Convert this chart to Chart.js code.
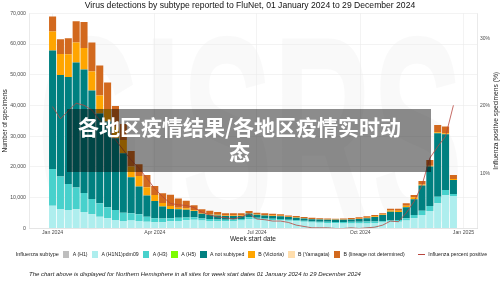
<!DOCTYPE html>
<html lang="en">
<head>
<meta charset="UTF-8">
<script src="https://cdn.jsdelivr.net/npm/chart.js"></script>
<style>
  body { margin: 0; background: #fff; }
  .wrap { position: relative; width: 500px; height: 281px; overflow: hidden; font-family: "Liberation Sans", Arial, sans-serif; }
  .mark { position: absolute; left: 37px; top: -5px; font-size: 274px; line-height: 1; font-weight: bold; color: rgba(0,0,0,0.025); transform: scaleX(0.5); transform-origin: left top; white-space: nowrap; }
  canvas { position: absolute; left: 0; top: 0; }
  .legend { position: absolute; left: 15.7px; top: 250.8px; height: 7px; display: flex; align-items: center; font-size: 5.2px; color: #222; white-space: nowrap; }
  .legend .head { font-size: 5.5px; margin-right: 4px; }
  .legend .item { display: flex; align-items: center; margin-right: 4px; }
  .legend .box { width: 6.6px; height: 6.6px; margin-right: 3.4px; }
  .legend .line { width: 6.7px; height: 0.8px; margin-left: 9.4px; margin-right: 3.5px; }
  .foot { position: absolute; left: 29px; top: 271.4px; font-size: 6px; font-style: italic; color: #222; white-space: nowrap; }
  .banner { position: absolute; left: 66.7px; top: 109px; width: 364.3px; height: 62.7px; background: rgba(0,0,0,0.45); }
  .banner div { position: absolute; left: 0; top: 5px; width: 345.6px; text-align: center; color: #fff; font-family: "Noto Sans CJK SC", sans-serif; font-weight: 700; font-size: 21px; line-height: 25px; }
</style>
</head>
<body>
<div class="wrap">
  <div class="mark">GISRS</div>
  <canvas id="flu" width="500" height="281"></canvas>
  <div class="legend" id="legend"><span class="head">Influenza subtype</span></div>
  <div class="foot">The chart above is displayed for Northern Hemisphere in all sites for week start dates 01 January 2024 to 29 December 2024</div>
  <div class="banner"><div>各地区疫情结果/各地区疫情实时动<br>态</div></div>
</div>

<script>
  // week start dates (2024)
  const weekStarts = ['01-01', '01-08', '01-15', '01-22', '01-29', '02-05', '02-12', '02-19', '02-26',
    '03-04', '03-11', '03-18', '03-25', '04-01', '04-08', '04-15', '04-22', '04-29', '05-06', '05-13',
    '05-20', '05-27', '06-03', '06-10', '06-17', '06-24', '07-01', '07-08', '07-15', '07-22', '07-29',
    '08-05', '08-12', '08-19', '08-26', '09-02', '09-09', '09-16', '09-23', '09-30', '10-07', '10-14',
    '10-21', '10-28', '11-04', '11-11', '11-18', '11-25', '12-02', '12-09', '12-16', '12-23'];

  const tickDays = [0, 91, 182, 274, 366];
  const tickLabels = ['Jan 2024', 'Apr 2024', 'Jul 2024', 'Oct 2024', 'Jan 2025'];
  const pctTicks = [10, 20, 30];

  const h1 = [];
  const h1n1 = [7380, 6300, 5970, 6190, 5320, 4560, 3800, 3260, 2710, 2390, 2500, 2390, 2170, 1950,
    2000, 2300, 2400, 2600, 2800, 2500, 2400, 2300, 2300, 2400, 2500, 3000, 2900, 2800, 2700, 2650,
    2450, 2300, 2100, 1900, 1800, 1700, 1650, 1600, 1600, 1600, 1600, 1700, 1900, 2100, 2170, 2500,
    3260, 4340, 5650, 8140, 10860, 10530];
  const h3 = [11950, 10530, 8470, 7060, 6190, 4990, 4340, 3580, 3260, 2710, 2390, 2170, 1630, 1310,
    1200, 1000, 1000, 900, 800, 700, 600, 600, 500, 500, 500, 600, 500, 400, 400, 400,
    350, 350, 350, 350, 350, 400, 400, 450, 500, 550, 600, 500, 400, 500, 540, 760,
    1080, 1410, 1620, 2160, 1630, 650];
  const h5 = [];
  const notSubtyped = [38540, 33120, 34850, 40710, 40170, 35290, 29210, 27900, 23330, 19330, 11720, 9010, 6840, 5640,
    3900, 3000, 2800, 2500, 2000, 1500, 1400, 1300, 1200, 1100, 1000, 1200, 1000, 1000, 900, 900,
    850, 800, 750, 700, 700, 700, 700, 750, 800, 900, 1050, 1500, 2000, 2800, 2610, 3580,
    5110, 8150, 12820, 20640, 18130, 4560];
  const victoria = [6190, 6840, 7390, 6520, 7060, 6190, 5860, 4130, 3800, 4340, 3480, 3480, 2720, 1960,
    1100, 1000, 500, 500, 300, 200, 200, 200, 150, 150, 150, 200, 150, 150, 150, 150,
    120, 120, 100, 100, 80, 80, 80, 80, 80, 100, 150, 200, 200, 400, 400, 540,
    650, 400, 300, 300, 320, 300];
  const yamagata = [];
  const bUndetermined = [4890, 4770, 5210, 6950, 8470, 9450, 9780, 8580, 6750, 5210, 5100, 3800, 4010, 2930,
    3200, 3600, 3000, 2500, 1600, 1300, 1150, 900, 750, 750, 750, 650, 550, 550, 550, 500,
    430, 430, 400, 350, 320, 320, 320, 320, 370, 450, 500, 400, 400, 600, 680, 760,
    760, 1120, 1870, 2420, 2180, 1330];
  const pctPositive = [19.9, 18.1, 19.3, 20.4, 20.1, 19.4, 17.9, 16.7, 15.0, 13.5, 12.0, 10.8, 9.3, 7.8,
    6.6, 5.6, 5.4, 5.3, 5.0, 4.3, 3.9, 3.6, 3.5, 3.3, 3.6, 4.1, 3.3, 3.2, 3.0, 3.0,
    2.8, 2.4, 2.2, 2.0, 2.0, 2.0, 1.9, 1.9, 2.0, 1.9, 2.0, 2.1, 2.4, 3.0, 2.9, 4.2,
    5.9, 8.3, 12.3, 14.0, 15.5, 20.1];

  const seriesLabels = ['A (H1)', 'A (H1N1)pdm09', 'A (H3)', 'A (H5)', 'A not subtyped',
    'B (Victoria)', 'B (Yamagata)', 'B (lineage not determined)'];
  const seriesValues = [h1, h1n1, h3, h5, notSubtyped, victoria, yamagata, bUndetermined];
  const seriesColors = ['#bebebe', '#aeeeee', '#48d1cc', '#7cfc00', '#008080', '#ffa500', '#ffdead', '#d2691e'];
  const lineColor = '#b8463f';

  const jan1 = Date.UTC(2024, 0, 1);
  const days = weekStarts.map(s => {
    const [m, d] = s.split('-').map(Number);
    return (Date.UTC(2024, m - 1, d) - jan1) / 86400000;
  });

  const datasets = seriesValues.map((vals, k) => ({
    type: 'bar',
    label: seriesLabels[k],
    data: vals.map((v, i) => ({ x: days[i], y: v })),
    backgroundColor: seriesColors[k],
    borderWidth: 0,
    barPercentage: 0.9,
    categoryPercentage: 1,
    yAxisID: 'y',
    order: 1
  }));
  datasets.push({
    type: 'line',
    label: 'Influenza percent positive',
    data: pctPositive.map((v, i) => ({ x: days[i], y: v })),
    borderColor: lineColor,
    borderWidth: 0.8,
    pointRadius: 0,
    tension: 0,
    yAxisID: 'y1',
    order: 0
  });

  const rightTitle = {
    id: 'rightTitle',
    afterDraw(chart) {
      const ctx = chart.ctx;
      const a = chart.chartArea;
      ctx.save();
      ctx.translate(496, (a.top + a.bottom) / 2);
      ctx.rotate(-Math.PI / 2);
      ctx.font = '6.7px "Liberation Sans"';
      ctx.fillStyle = '#222';
      ctx.textAlign = 'center';
      ctx.textBaseline = 'middle';
      ctx.fillText('Influenza positive specimens (%)', 0, 0);
      ctx.restore();
    }
  };

  Chart.defaults.font.family = '"Liberation Sans", Arial, sans-serif';
  Chart.defaults.color = '#4d4d4d';

  new Chart(document.getElementById('flu'), {
    type: 'bar',
    data: { datasets: datasets },
    options: {
      responsive: false,
      animation: false,
      layout: { padding: { left: 0, right: 0, top: 0, bottom: 36 } },
      plugins: {
        legend: { display: false },
        tooltip: { enabled: false },
        title: {
          display: true,
          text: 'Virus detections by subtype reported to FluNet, 01 January 2024 to 29 December 2024',
          color: '#111',
          font: { size: 8.6, weight: 'normal', lineHeight: 1.2 },
          padding: { top: 0.6, bottom: 2.4 }
        }
      },
      scales: {
        x: {
          type: 'linear',
          stacked: true,
          offset: false,
          min: -21,
          max: 378,
          afterBuildTicks: s => { s.ticks = tickDays.map(v => ({ value: v })); },
          afterFit: s => { s.height = 16.7; },
          ticks: {
            autoSkip: false,
            maxRotation: 0,
            padding: 1,
            font: { size: 5.2 },
            callback: v => tickLabels[tickDays.indexOf(v)]
          },
          grid: { offset: false, color: '#ebebeb', lineWidth: 0.6, drawTicks: false },
          border: { color: '#dcdcdc', width: 0.6 },
          title: { display: true, text: 'Week start date', color: '#222', font: { size: 6.6 }, padding: { top: 0, bottom: 1.7 } }
        },
        y: {
          position: 'left',
          stacked: true,
          min: 0,
          max: 70000,
          afterFit: s => { s.width = 29; },
          ticks: {
            stepSize: 10000,
            padding: 3,
            font: { size: 5.2 },
            callback: v => v.toLocaleString('en-US')
          },
          grid: { color: '#ebebeb', lineWidth: 0.6, drawTicks: false },
          border: { color: '#dcdcdc', width: 0.6 },
          title: { display: true, text: 'Number of specimens', color: '#222', font: { size: 6.5 }, padding: { top: 1.4, bottom: 0 } }
        },
        y1: {
          position: 'right',
          min: 1.93,
          max: 33.69,
          afterBuildTicks: s => { s.ticks = pctTicks.map(v => ({ value: v })); },
          afterFit: s => { s.width = 23; },
          ticks: {
            padding: 3,
            font: { size: 5 },
            callback: v => v + '%'
          },
          grid: { drawOnChartArea: false, drawTicks: false },
          border: { color: '#dcdcdc', width: 0.6 }
        }
      }
    },
    plugins: [rightTitle]
  });

  // legend row built from the series
  const legend = document.getElementById('legend');
  seriesLabels.forEach((lab, k) => {
    const item = document.createElement('span');
    item.className = 'item';
    item.innerHTML = `<span class="box" style="background:${seriesColors[k]}"></span>${lab}`;
    legend.appendChild(item);
  });
  const lineItem = document.createElement('span');
  lineItem.className = 'item';
  lineItem.innerHTML = `<span class="line" style="background:${lineColor}"></span>Influenza percent positive`;
  legend.appendChild(lineItem);
</script>
</body>
</html>
